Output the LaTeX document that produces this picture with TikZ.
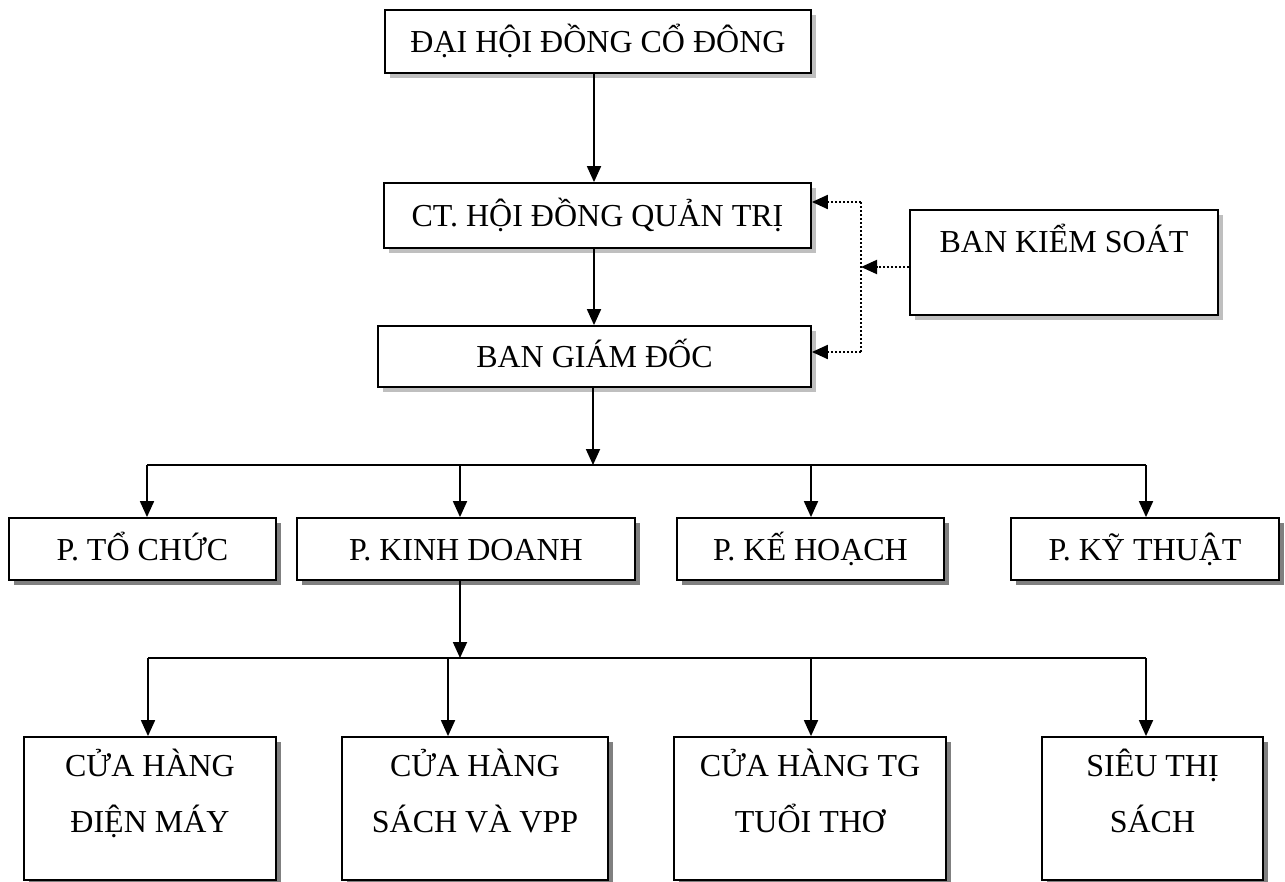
\documentclass[tikz,border=0pt]{standalone}
\usepackage{fontspec}
\setmainfont{Liberation Serif}
\usetikzlibrary{arrows.meta,shadows}
\begin{document}
\begin{tikzpicture}[x=1pt,y=-1pt,
  every node/.style={font=\fontsize{32}{56}\selectfont},
  box/.style={draw=black,line width=1.8pt,fill=white,inner sep=0pt,text height=26pt,text depth=4pt},
  lightbox/.style={box,drop shadow={shadow xshift=5pt,shadow yshift=-5pt,fill=black!25,opacity=1}},
  darkbox/.style={box,drop shadow={shadow xshift=5pt,shadow yshift=-5pt,fill=black!50,opacity=1}},
  lbl/.style={inner sep=0pt,anchor=base},
  conn/.style={line width=1.8pt},
  arr/.style={conn,-{Triangle[length=16pt,width=14pt]}},
  dotarr/.style={line width=2pt,dash pattern=on 2pt off 2pt,-{Triangle[length=16pt,width=14pt]}},
  dotline/.style={line width=2pt,dash pattern=on 2pt off 2pt}]
\useasboundingbox (0,0) rectangle (1285,881);
% top chain
\node[lightbox,minimum width=426pt,minimum height=63pt] (dh) at (598,41.5) {ĐẠI HỘI ĐỒNG CỔ ĐÔNG};
\node[lightbox,minimum width=427pt,minimum height=65pt] (ct) at (597.5,215.5) {CT. HỘI ĐỒNG QUẢN TRỊ};
\node[lightbox,minimum width=433pt,minimum height=61pt] (bgd) at (594.5,356.5) {BAN GIÁM ĐỐC};
\node[lightbox,minimum width=308pt,minimum height=105pt] (ks) at (1064,262.5) {};
\node[lbl] (kslbl) at (1064,252) {BAN KIỂM SOÁT};
% departments
\node[darkbox,minimum width=267pt,minimum height=62pt] (p1) at (142.5,549) {P. TỔ CHỨC};
\node[darkbox,minimum width=338pt,minimum height=62pt] (p2) at (466,549) {P. KINH DOANH};
\node[darkbox,minimum width=267pt,minimum height=62pt] (p3) at (810.5,549) {P. KẾ HOẠCH};
\node[darkbox,minimum width=268pt,minimum height=62pt] (p4) at (1145,549) {P. KỸ THUẬT};
% stores
\node[darkbox,minimum width=252pt,minimum height=143pt] (b1) at (150,808.5) {};
\node[darkbox,minimum width=266pt,minimum height=143pt] (b2) at (475,808.5) {};
\node[darkbox,minimum width=272pt,minimum height=143pt] (b3) at (810,808.5) {};
\node[darkbox,minimum width=221pt,minimum height=143pt] (b4) at (1152.5,808.5) {};
\node[lbl] (b1l) at (150,776) {\begin{tabular}[t]{@{}c@{}}CỬA HÀNG\\ĐIỆN MÁY\end{tabular}};
\node[lbl] (b2l) at (475,776) {\begin{tabular}[t]{@{}c@{}}CỬA HÀNG\\SÁCH VÀ VPP\end{tabular}};
\node[lbl] (b3l) at (810,776) {\begin{tabular}[t]{@{}c@{}}CỬA HÀNG TG\\TUỔI THƠ\end{tabular}};
\node[lbl] (b4l) at (1152.5,776) {\begin{tabular}[t]{@{}c@{}}SIÊU THỊ\\SÁCH\end{tabular}};
% coordinates
\coordinate (m1) at (594,0);
\coordinate (h1) at (593,465);
\coordinate (h1a) at (147,465);
\coordinate (h1b) at (460,465);
\coordinate (h1c) at (811,465);
\coordinate (h1d) at (1146,465);
\coordinate (h2) at (460,658);
\coordinate (h2a) at (148,658);
\coordinate (h2b) at (448,658);
\coordinate (h2c) at (811,658);
\coordinate (h2d) at (1146,658);
\coordinate (dv) at (861,267);
% solid connectors
\draw[arr] (dh.south -| m1) -- (ct.north -| m1);
\draw[arr] (ct.south -| m1) -- (bgd.north -| m1);
\draw[arr] (bgd.south -| h1) -- (h1);
\draw[conn] (h1a) -- (h1d);
\draw[arr] (h1a) -- (p1.north -| h1a);
\draw[arr] (h1b) -- (p2.north -| h1b);
\draw[arr] (h1c) -- (p3.north -| h1c);
\draw[arr] (h1d) -- (p4.north -| h1d);
\draw[arr] (p2.south -| h2) -- (h2);
\draw[conn] (h2a) -- (h2d);
\draw[arr] (h2a) -- (b1.north -| h2a);
\draw[arr] (h2b) -- (b2.north -| h2b);
\draw[arr] (h2c) -- (b3.north -| h2c);
\draw[arr] (h2d) -- (b4.north -| h2d);
% dotted connectors
\coordinate (dvt) at (861,202);
\coordinate (dvb) at (861,352);
\draw[dotline] (dvt) -- (dvb);
\draw[dotarr] (ks.west |- dv) -- (dv);
\draw[dotarr] (dvt) -- (ct.east |- dvt);
\draw[dotarr] (dvb) -- (bgd.east |- dvb);
\end{tikzpicture}
\end{document}
